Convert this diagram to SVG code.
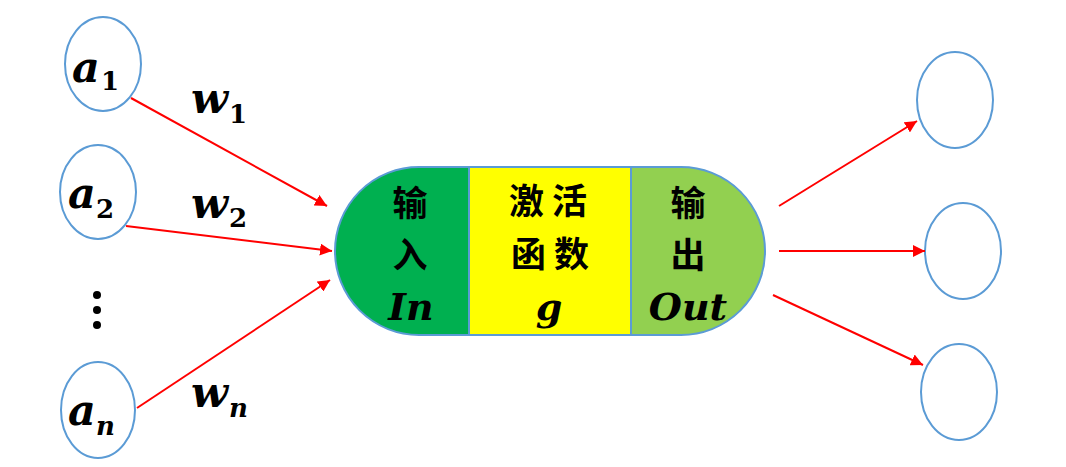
<svg xmlns="http://www.w3.org/2000/svg" width="1066" height="467" viewBox="0 0 1066 467">
<defs>
<style>
.node{fill:#fff;stroke:#5B9BD5;stroke-width:2}
.m{font-family:"DejaVu Serif",serif;font-weight:bold;font-style:italic;fill:#000}
.big{font-size:43px}
.sub{font-size:26px}
.up{font-style:normal}
.zh{font-family:"Noto Sans CJK SC",sans-serif;font-weight:bold;font-size:35px;fill:#000;text-anchor:middle}
.sp{letter-spacing:8px}
.mm{font-family:"DejaVu Serif",serif;font-weight:bold;font-style:italic;font-size:38px;fill:#000;text-anchor:middle}
.arr{stroke:#FF0000;stroke-width:2;fill:none;marker-end:url(#ah)}
</style>
<marker id="ah" viewBox="0 0 10 10" refX="10" refY="5" markerWidth="6" markerHeight="6" markerUnits="strokeWidth" orient="auto">
<path d="M0,0 L10,5 L0,10 z" fill="#FF0000"/>
</marker>
<clipPath id="pill"><rect x="335" y="167" width="430" height="168" rx="84" ry="84"/></clipPath>
</defs>
<rect width="1066" height="467" fill="#fff"/>

<g id="a1">
<ellipse class="node" cx="103" cy="64" rx="38" ry="47"/>
<text class="m big" x="72" y="82">a</text><text class="m sub up" x="101" y="90">1</text>
</g>
<g id="a2">
<ellipse class="node" cx="98" cy="192" rx="38" ry="47"/>
<text class="m big" x="68" y="208">a</text><text class="m sub up" x="96" y="218">2</text>
</g>
<g id="dots">
<circle cx="97" cy="295" r="4" fill="#000"/>
<circle cx="97" cy="310" r="4" fill="#000"/>
<circle cx="97" cy="325" r="4" fill="#000"/>
</g>
<g id="an">
<ellipse class="node" cx="98" cy="410" rx="37" ry="48"/>
<text class="m big" x="68" y="425">a</text><text class="m sub" x="96" y="435">n</text>
</g>

<g id="neuron">
<g clip-path="url(#pill)">
<rect x="335" y="167" width="134" height="168" fill="#00B050"/>
<rect x="469" y="167" width="162" height="168" fill="#FFFF00"/>
<rect x="631" y="167" width="134" height="168" fill="#92D050"/>
</g>
<line x1="469" y1="167" x2="469" y2="335" stroke="#5B9BD5" stroke-width="2"/>
<line x1="631" y1="167" x2="631" y2="335" stroke="#5B9BD5" stroke-width="2"/>
<rect x="335" y="167" width="430" height="168" rx="84" ry="84" fill="none" stroke="#5B9BD5" stroke-width="2"/>
<text class="zh" x="410" y="216">输</text>
<text class="zh" x="410" y="268">入</text>
<text class="mm" x="411" y="320">In</text>
<text class="zh sp" x="552" y="214">激活</text>
<text class="zh sp" x="554" y="267">函数</text>
<text class="mm" x="549" y="320">g</text>
<text class="zh" x="688" y="216">输</text>
<text class="zh" x="688" y="268">出</text>
<text class="mm" x="688" y="320">Out</text>
</g>

<g id="o1"><ellipse class="node" cx="955" cy="100" rx="38" ry="48"/></g>
<g id="o2"><ellipse class="node" cx="963" cy="251" rx="38" ry="48"/></g>
<g id="o3"><ellipse class="node" cx="959" cy="392" rx="38" ry="48"/></g>

<g id="connectors">
<line class="arr" x1="131" y1="98" x2="327" y2="206"/>
<line class="arr" x1="126" y1="226" x2="332" y2="251"/>
<line class="arr" x1="137" y1="408" x2="330" y2="280"/>
<line class="arr" x1="779" y1="206" x2="917" y2="121"/>
<line class="arr" x1="779" y1="251" x2="925" y2="251"/>
<line class="arr" x1="773" y1="295" x2="923" y2="365"/>
</g>

<g id="labels">
<text class="m big" x="191" y="113">w</text><text class="m sub up" x="229" y="123">1</text>
<text class="m big" x="191" y="218">w</text><text class="m sub up" x="229" y="227">2</text>
<text class="m big" x="191" y="407">w</text><text class="m sub" x="229" y="417">n</text>
</g>
</svg>
